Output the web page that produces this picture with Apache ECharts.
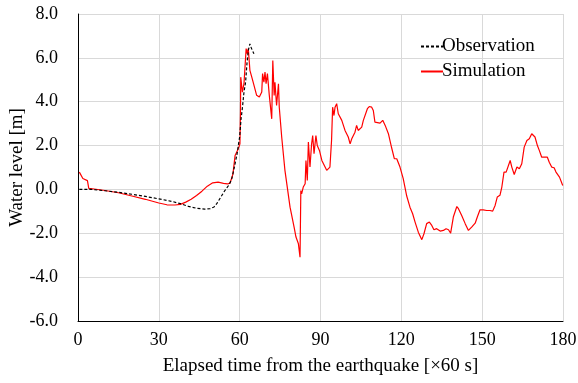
<!DOCTYPE html>
<html>
<head>
<meta charset="utf-8">
<script src="https://cdn.jsdelivr.net/npm/echarts@6/dist/echarts.min.js"></script>
<style>html,body{margin:0;padding:0;background:#fff}#c{width:578px;height:383px}</style>
</head>
<body>
<div id="c"></div>
<script>
// Elapsed time [x60 s]
var xTicks = [0, 30, 60, 90, 120, 150, 180];
var yTicks = [-6, -4, -2, 0, 2, 4, 6, 8];

var obsTime = [0.5,1,5,10,15,20,25,30,35,38,41,44,47,49,50.5,51.5,53,54.5,56,57,58,59,60,60.5,61,61.6,62.2,62.7,63.2,63.8,64.2,64.7,65.3];
var obsLevel = [0.0,0.03,0.0,-0.06,-0.13,-0.22,-0.32,-0.43,-0.55,-0.65,-0.77,-0.86,-0.9,-0.88,-0.8,-0.65,-0.35,-0.05,0.2,0.45,1.0,1.6,2.4,3.2,3.7,4.44,4.9,5.73,6.34,6.64,6.49,6.34,6.19];

var simTime = [0.5,1.2,1.8,2.5,3.5,4,6,10,15,20,25,30,33,36,38,40,42,44,46,48,50,52,54,55.5,56.4,57,57.5,58.3,59.5,60.1,60.3,60.4,61,61.6,62.4,62.8,63.2,63.8,64.5,65,66.3,67.3,68.2,68.5,69,69.4,69.8,70.3,71,71.9,72.3,72.8,73.1,73.7,74.4,74.7,75.6,76.8,78.7,80.2,80.9,81.8,82.4,82.7,83.0,83.6,84.3,84.6,85.1,85.5,86.1,86.7,87.1,87.6,88.3,88.8,89.6,90.5,91.0,92.3,92.9,93.5,94.1,94.5,95.0,95.4,96.0,96.6,97.3,97.9,98.5,99.1,99.7,100.3,101.0,101.6,102.2,102.8,103.4,104.0,104.7,105.3,105.9,106.5,107.4,108.1,109.0,109.6,110.2,110.9,112.1,112.7,113.1,114.0,115.2,116.4,117.4,118.3,119.5,120.7,122.0,123.2,124.2,125.1,126.3,127.6,128.4,129.4,130.4,131.3,132.1,133.1,134.4,135.6,136.6,137.5,138.3,139.3,140.6,141.2,142.4,143.7,144.9,146.1,147.4,148.2,149.2,150.4,151.7,152.9,153.9,154.8,155.6,156.6,157.3,158.1,158.9,159.5,160.4,161.0,161.9,162.9,163.8,164.7,165.6,166.6,167.5,168.4,169.0,169.6,170.5,171.2,172.1,173.3,174.2,174.9,175.8,176.7,177.4,178.7,179.9];
var simLevel = [0.79,0.7,0.5,0.45,0.4,0.05,0.02,-0.05,-0.15,-0.3,-0.45,-0.62,-0.7,-0.71,-0.68,-0.58,-0.45,-0.28,-0.08,0.15,0.3,0.33,0.28,0.25,0.29,0.5,0.7,1.55,1.86,2.08,3.5,5.12,4.44,4.82,6.42,6.19,6.42,5.43,5.12,4.89,4.29,4.21,4.44,5.28,4.89,5.35,4.82,5.28,4.29,3.22,5.88,4.29,4.89,3.83,4.82,3.75,2.39,0.87,-0.81,-1.72,-2.17,-2.48,-3.09,-0.05,-0.2,0.11,0.26,1.32,0.41,2.16,1.02,2.08,2.46,1.63,2.46,2.0,1.78,1.32,1.24,0.87,0.79,1.02,2.23,3.75,3.37,3.75,3.91,3.45,3.37,3.15,2.92,2.69,2.61,2.39,2.08,2.31,2.46,2.61,2.92,2.69,2.69,2.84,3.15,3.22,3.68,3.78,3.75,3.6,3.07,2.99,3.02,3.02,3.15,2.92,2.54,1.9,1.4,1.4,1.02,0.49,-0.3,-0.81,-1.11,-1.49,-1.95,-2.29,-2.02,-1.56,-1.49,-1.64,-1.84,-1.79,-1.9,-1.87,-1.79,-1.84,-1.99,-1.26,-0.78,-0.88,-1.19,-1.56,-1.87,-1.72,-1.54,-1.26,-0.93,-0.93,-0.96,-0.96,-0.99,-0.73,-0.35,-0.27,0.11,0.79,0.79,0.83,1.32,1.02,0.68,1.02,0.94,1.17,1.93,2.23,2.31,2.54,2.61,2.39,2.0,1.78,1.47,1.47,1.47,1.24,1.02,0.99,0.79,0.56,0.18];

function pairs(a, b) { return a.map(function (v, i) { return [v, b[i]]; }); }

var font = '"Liberation Serif", "Times New Roman", serif';
var chart = echarts.init(document.getElementById('c'), null, {renderer: 'canvas'});
chart.setOption({
  animation: false,
  backgroundColor: '#fff',
  grid: {left: 78, right: 15, top: 14, bottom: 62, containLabel: false, outerBoundsMode: 'none'},
  legend: {
    orient: 'vertical', left: 415, top: 32, itemWidth: 22, itemHeight: 12, itemGap: 6,
    itemStyle: {opacity: 0},
    textStyle: {fontFamily: font, fontSize: 19, color: '#000', padding: [0,0,0,-6]},
    data: ['Observation', 'Simulation']
  },
  xAxis: {
    type: 'value', min: xTicks[0], max: xTicks[xTicks.length - 1], interval: 30,
    name: 'Elapsed time from the earthquake [×60 s]', nameLocation: 'middle', nameGap: 36,
    nameMoveOverlap: false,
    nameTextStyle: {fontFamily: font, fontSize: 19, color: '#000'},
    axisLine: {show: true, onZero: false, lineStyle: {color: '#000', width: 1}},
    axisTick: {show: false},
    axisLabel: {fontFamily: font, fontSize: 18, color: '#000', margin: 10},
    splitLine: {show: true, lineStyle: {color: '#d9d9d9', width: 1}}
  },
  yAxis: {
    type: 'value', min: yTicks[0], max: yTicks[yTicks.length - 1], interval: 2,
    name: 'Water level [m]', nameLocation: 'middle', nameGap: 51,
    nameMoveOverlap: false,
    nameTextStyle: {fontFamily: font, fontSize: 19, color: '#000'},
    axisLine: {show: true, onZero: false, lineStyle: {color: '#000', width: 1}},
    axisTick: {show: false},
    axisLabel: {fontFamily: font, fontSize: 18, color: '#000', margin: 20, formatter: function (v) { return v.toFixed(1); }},
    splitLine: {show: true, lineStyle: {color: '#d9d9d9', width: 1}}
  },
  series: [
    {name: 'Observation', type: 'line', data: pairs(obsTime, obsLevel), symbol: 'none', z: 3,
     lineStyle: {color: '#000', width: 1.2, type: [3, 2]}, itemStyle: {color: '#000'}},
    {name: 'Simulation', type: 'line', data: pairs(simTime, simLevel), symbol: 'none', z: 2,
     lineStyle: {color: '#ff0000', width: 1.2}, itemStyle: {color: '#ff0000'}}
  ]
});
</script>
</body>
</html>
